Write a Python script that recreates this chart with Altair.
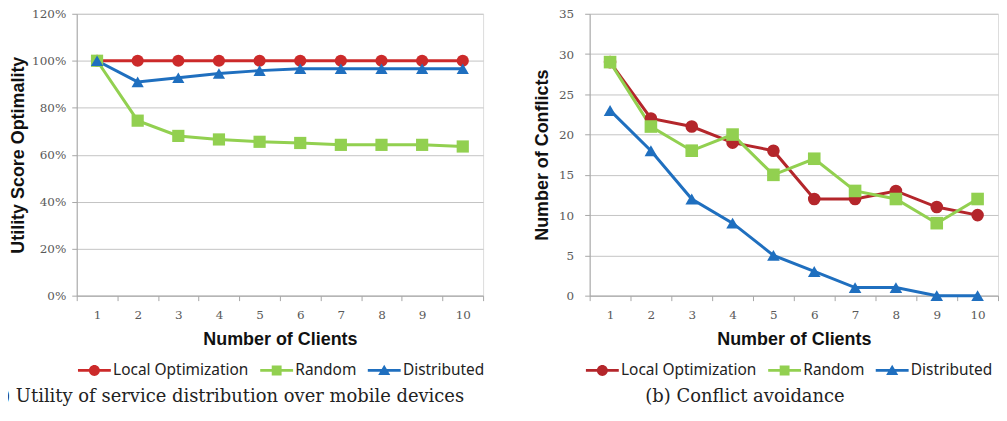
import altair as alt
import pandas as pd

clients = [1, 2, 3, 4, 5, 6, 7, 8, 9, 10]
series_names = ["Local Optimization", "Random", "Distributed"]

# (a) Utility score optimality (percent)
util_local = [100, 100, 100, 100, 100, 100, 100, 100, 100, 100]
util_random = [100, 74.5, 68, 66.5, 65.5, 65, 64.2, 64.2, 64.2, 63.5]
util_dist = [100, 91, 92.8, 94.6, 95.8, 96.6, 96.6, 96.6, 96.6, 96.6]

# (b) Number of conflicts
conf_local = [29, 22, 21, 19, 18, 12, 12, 13, 11, 10]
conf_random = [29, 21, 18, 20, 15, 17, 13, 12, 9, 12]
conf_dist = [23, 18, 12, 9, 5, 3, 1, 1, 0, 0]

util_ticks = [0, 0.2, 0.4, 0.6, 0.8, 1.0, 1.2]
conf_ticks = [0, 5, 10, 15, 20, 25, 30, 35]

colors_a = ["#cc2a2a", "#92d050", "#1f6fbf"]
colors_b = ["#b4262b", "#92d050", "#1f6fbf"]
shapes = ["circle", "square", "triangle-up"]
# legend symbols: line stub + marker
legend_paths = [
    "M-3,-0.25H3V0.25H-3Z M-1,0A1,1 0 1,1 1,0A1,1 0 1,1 -1,0Z",
    "M-3,-0.25H3V0.25H-3Z M-0.9,-0.9H0.9V0.9H-0.9Z",
    "M-3,-0.25H3V0.25H-3Z M0,-1.05L1.1,0.85H-1.1Z",
]


def make_df(series_values, colors, scale=1.0):
    rows = []
    for i, (name, vals) in enumerate(zip(series_names, series_values)):
        for c, v in zip(clients, vals):
            rows.append({"clients": c, "series": name, "value": v * scale,
                         "idx": i, "hex": colors[i], "shape": shapes[i]})
    return pd.DataFrame(rows)


df_a = make_df([util_local, util_random, util_dist], colors_a, 0.01)
df_b = make_df([conf_local, conf_random, conf_dist], colors_b, 1.0)

AX_COL = "#a6a6a6"
LAB_COL = "#595959"


def panel(df, colors, ytitle, yvals, yfmt, ydomain, width, caption, cap_anchor,
          cap_dx, legend_x, msize, lab_pad, title_pad):
    base = alt.Chart(df)
    x = alt.X("clients:O",
              scale=alt.Scale(type="band", paddingInner=0, paddingOuter=0),
              axis=alt.Axis(title="Number of Clients", labelAngle=0, tickBand="extent",
                            grid=False, domainColor=AX_COL, tickColor=AX_COL, tickSize=5,
                            labelFont="DejaVu Serif", labelFontSize=12, labelColor=LAB_COL,
                            labelPadding=8.5, titleFont="Liberation Sans", titleFontSize=18,
                            titleFontWeight="bold", titleColor="#111", titlePadding=11))
    y = alt.Y("value:Q",
              scale=alt.Scale(domain=ydomain, nice=False, zero=True),
              axis=alt.Axis(title=ytitle, values=yvals, format=yfmt, grid=True,
                            gridColor="#c4c4c4", gridWidth=1, domainColor=AX_COL,
                            tickColor=AX_COL, tickSize=5, labelFont="DejaVu Serif",
                            labelFontSize=12, labelColor=LAB_COL, labelPadding=lab_pad,
                            titleFont="Liberation Sans", titleFontSize=18,
                            titleFontWeight="bold", titleColor="#111",
                            titlePadding=title_pad))
    lines = base.mark_line(strokeWidth=3).encode(
        x=x, y=y,
        color=alt.Color("hex:N", scale=None),
        detail="series:N",
    )
    points = base.mark_point(filled=True, size=msize, opacity=1).encode(
        x=x, y=y,
        color=alt.Color("hex:N", scale=None),
        shape=alt.Shape("shape:N", scale=None),
        order=alt.Order("idx:Q"),
    )
    leg = dict(title=None, orient="none", direction="horizontal",
               legendX=legend_x, legendY=350, symbolSize=121,
               symbolOpacity=1, symbolStrokeWidth=0,
               labelFont="Noto Sans", labelFontSize=15.5,
               labelColor="#222", labelOffset=11, columnPadding=11)
    dummy = base.mark_point(filled=True, size=121, opacity=0).encode(
        x=x, y=y,
        color=alt.Color("series:N", scale=alt.Scale(domain=series_names, range=colors),
                        legend=alt.Legend(**leg)),
        shape=alt.Shape("series:N", scale=alt.Scale(domain=series_names, range=legend_paths),
                        legend=alt.Legend(**leg)),
    )
    return alt.layer(lines, points, dummy).properties(
        width=width, height=283,
        title=alt.TitleParams(text=caption, orient="bottom", anchor=cap_anchor,
                              frame="group", dx=cap_dx, offset=9, font="DejaVu Serif",
                              fontSize=18, fontWeight="normal", color="#222"),
    )


left = panel(df_a, colors_a, "Utility Score Optimality", util_ticks, ".0%", [0, 1.2], 408,
             "(a) Utility of service distribution over mobile devices", "end", -19,
             10, 150, 6, 4)
right = panel(df_b, colors_b, "Number of Conflicts", conf_ticks, "d", [0, 35], 410,
              "(b) Conflict avoidance", "middle", -49, 5, 160, 11, 7)

chart = alt.hconcat(left, right, spacing=47).resolve_scale(
    color="independent", shape="independent"
).resolve_legend(color="independent", shape="independent").properties(
    padding={"left": -24, "top": -2, "right": 0, "bottom": -1}
).configure_view(stroke=None).configure(background="white")

chart.save("out.html", embed_options={"renderer": "svg", "actions": False})
